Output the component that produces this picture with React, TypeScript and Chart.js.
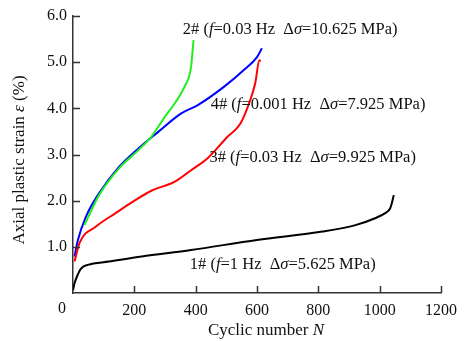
import { useEffect, useRef } from "react";
import { Chart, registerables } from "chart.js";
Chart.register(...registerables);

// 1# (f=1 Hz, Δσ=5.625 MPa)
const n1 = [0, 5, 15, 26, 48, 117, 224, 385, 600, 814, 921, 985, 1018, 1034, 1041, 1046];
const e1 = [0.06, 0.21, 0.39, 0.53, 0.61, 0.68, 0.79, 0.93, 1.15, 1.33, 1.47, 1.62, 1.73, 1.83, 1.98, 2.12];
// 2# (f=0.03 Hz, Δσ=10.625 MPa)
const n2 = [37, 85, 150, 214, 257, 300, 332, 364, 385, 393];
const e2 = [1.47, 2.12, 2.7, 3.1, 3.4, 3.82, 4.11, 4.47, 4.9, 5.48];
// 3# (f=0.03 Hz, Δσ=9.925 MPa)
const n3 = [5, 21, 75, 139, 203, 257, 332, 385, 439, 503, 546, 578, 594, 608, 612];
const e3 = [0.68, 1.08, 1.44, 1.73, 2.01, 2.22, 2.41, 2.66, 2.92, 3.38, 3.67, 4.18, 4.54, 5.04, 5.02];
// 4# (f=0.001 Hz, Δσ=7.925 MPa)
const n4 = [5, 16, 42, 85, 150, 208, 278, 353, 407, 493, 557, 600, 616];
const e4 = [0.79, 1.15, 1.65, 2.16, 2.73, 3.1, 3.49, 3.89, 4.07, 4.47, 4.83, 5.11, 5.3];

const xTicks = [0, 200, 400, 600, 800, 1000, 1200];
const yTicks = [0, 1, 2, 3, 4, 5, 6];

type Seg = [string, boolean];
const labels: { n: number; e: number; segs: Seg[] }[] = [
  { n: 358, e: 5.71, segs: [["2# (", false], ["f", true], ["=0.03 Hz  Δ", false], ["σ", true], ["=10.625 MPa)", false]] },
  { n: 449, e: 4.07, segs: [["4# (", false], ["f", true], ["=0.001 Hz  Δ", false], ["σ", true], ["=7.925 MPa)", false]] },
  { n: 445, e: 2.94, segs: [["3# (", false], ["f", true], ["=0.03 Hz  Δ", false], ["σ", true], ["=9.925 MPa)", false]] },
  { n: 381, e: 0.61, segs: [["1# (", false], ["f", true], ["=1 Hz  Δ", false], ["σ", true], ["=5.625 MPa)", false]] },
];

const zip = (a: number[], b: number[]) => a.map((x, i) => ({ x, y: b[i] }));

const FONT = '"Liberation Serif", "Times New Roman", serif';

function drawSegs(ctx: CanvasRenderingContext2D, segs: Seg[], x: number, y: number, size: number) {
  let cx = x;
  for (const [t, it] of segs) {
    ctx.font = `${it ? "italic " : ""}${size}px ${FONT}`;
    ctx.fillText(t, cx, y);
    cx += ctx.measureText(t).width;
  }
}
function segsWidth(ctx: CanvasRenderingContext2D, segs: Seg[], size: number) {
  let w = 0;
  for (const [t, it] of segs) {
    ctx.font = `${it ? "italic " : ""}${size}px ${FONT}`;
    w += ctx.measureText(t).width;
  }
  return w;
}

const overlay = {
  id: "overlay",
  afterDraw(chart: any) {
    const ctx: CanvasRenderingContext2D = chart.ctx;
    const xs = chart.scales.x;
    const ys = chart.scales.y;
    const area = chart.chartArea;
    ctx.save();
    // inward ticks
    ctx.strokeStyle = "#333";
    ctx.lineWidth = 1.5;
    ctx.beginPath();
    for (const v of yTicks) {
      if (v === 0) continue;
      const py = Math.round(ys.getPixelForValue(v)) + 0.5;
      ctx.moveTo(area.left, py);
      ctx.lineTo(area.left + 7, py);
    }
    for (const v of xTicks) {
      if (v === 0) continue;
      const px = Math.round(xs.getPixelForValue(v)) + 0.5;
      ctx.moveTo(px, area.bottom);
      ctx.lineTo(px, area.bottom - 7);
    }
    ctx.stroke();
    ctx.fillStyle = "#111";
    ctx.textBaseline = "middle";
    // origin label
    ctx.font = `16px ${FONT}`;
    ctx.textAlign = "center";
    ctx.fillText("0", area.left - 11, area.bottom + 16);
    ctx.textAlign = "left";
    // annotations
    for (const l of labels) {
      drawSegs(ctx, l.segs, xs.getPixelForValue(l.n), ys.getPixelForValue(l.e), 16.5);
    }
    // x title
    const xt: Seg[] = [["Cyclic number ", false], ["N", true]];
    const xw = segsWidth(ctx, xt, 17);
    drawSegs(ctx, xt, 266 - xw / 2, 331, 17);
    // y title
    const yt: Seg[] = [["Axial plastic strain ", false], ["ε", true], [" (%)", false]];
    const yw = segsWidth(ctx, yt, 17);
    ctx.translate(20, 160);
    ctx.rotate(-Math.PI / 2);
    drawSegs(ctx, yt, -yw / 2, 0, 17);
    ctx.restore();
  },
};

export default function App() {
  const ref = useRef<HTMLCanvasElement>(null);
  useEffect(() => {
    document.body.style.margin = "0";
    const chart = new Chart(ref.current!, {
      type: "line",
      data: {
        datasets: [
          { label: "1#", data: zip(n1, e1), borderColor: "#000000" },
          { label: "2#", data: zip(n2, e2), borderColor: "#22ee22" },
          { label: "3#", data: zip(n3, e3), borderColor: "#ff0000" },
          { label: "4#", data: zip(n4, e4), borderColor: "#0000ff" },
        ],
      },
      options: {
        animation: false,
        responsive: false,
        layout: { padding: { top: 16, right: 18, left: 0, bottom: 0 } },
        elements: {
          point: { radius: 0 },
          line: { borderWidth: 2, tension: 0.4, cubicInterpolationMode: "monotone", fill: false },
        },
        plugins: { legend: { display: false }, tooltip: { enabled: false } },
        scales: {
          x: {
            type: "linear",
            min: 0,
            max: 1200,
            afterFit: (s: any) => { s.height = 48; },
            afterBuildTicks: (s: any) => { s.ticks = xTicks.map((v) => ({ value: v })); },
            grid: { display: false, drawTicks: false },
            border: { display: true, color: "#333", width: 1.5 },
            ticks: {
              padding: 8,
              color: "#111",
              font: { family: FONT, size: 16 },
              maxRotation: 0,
              callback: (v: any) => (v === 0 ? "" : String(v)),
            },
          },
          y: {
            type: "linear",
            min: 0,
            max: 6,
            afterFit: (s: any) => { s.width = 73; },
            afterBuildTicks: (s: any) => { s.ticks = yTicks.map((v) => ({ value: v })); },
            grid: { display: false, drawTicks: false },
            border: { display: true, color: "#333", width: 1.5 },
            ticks: {
              padding: 6,
              color: "#111",
              font: { family: FONT, size: 16 },
              callback: (v: any) => (v === 0 ? "" : Number(v).toFixed(1)),
            },
          },
        },
      },
      plugins: [overlay],
    });
    return () => chart.destroy();
  }, []);
  return (
    <div style={{ width: 465, height: 341 }}>
      <canvas ref={ref} width={465} height={341} style={{ display: "block" }} />
    </div>
  );
}
